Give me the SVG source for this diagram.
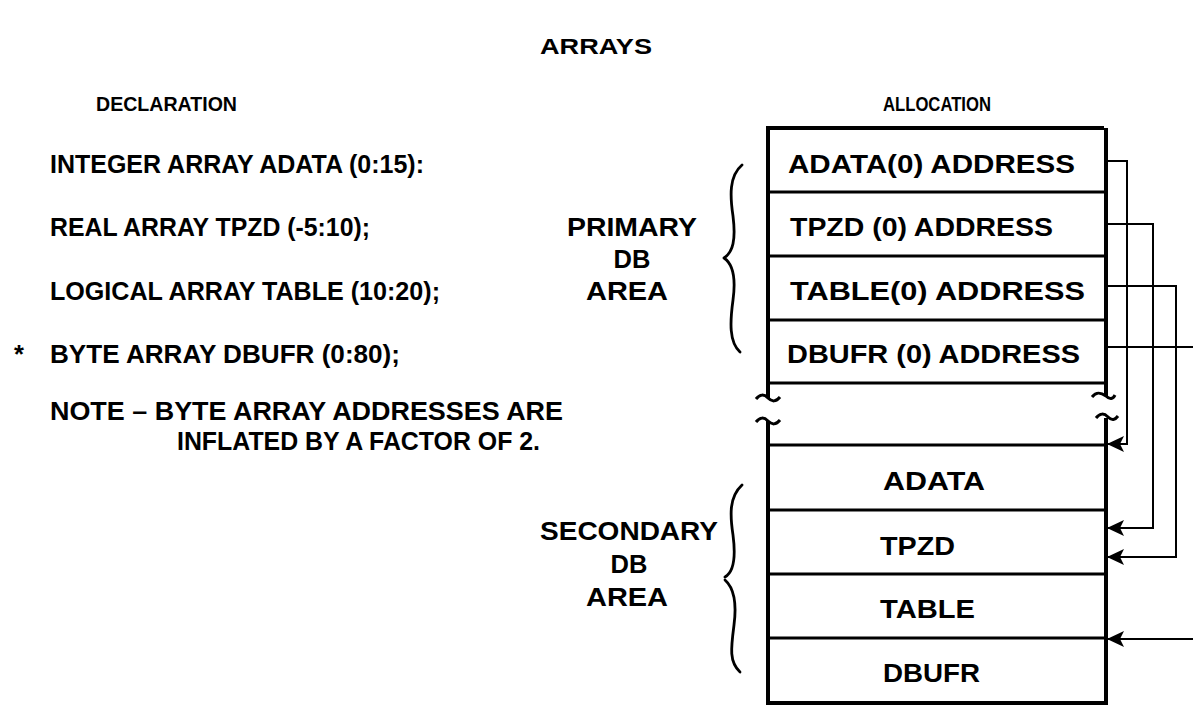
<svg xmlns="http://www.w3.org/2000/svg" width="1193" height="705" viewBox="0 0 1193 705">
<defs>
<style>
text{font-family:"Liberation Sans",Arial,sans-serif;font-weight:bold;fill:#000}
.t{font-size:25.5px}
.h{font-size:19.5px}
.b{font-size:26.5px}
.c{text-anchor:middle}
.edge{fill:none;stroke:#000;stroke-width:4}
.div{fill:none;stroke:#000;stroke-width:3}
.conn{fill:none;stroke:#000;stroke-width:2}
.brace{fill:none;stroke:#000;stroke-width:2.8;stroke-linecap:round;stroke-linejoin:round}
</style>
<marker id="ah" markerWidth="18" markerHeight="16" refX="17" refY="8" orient="auto" markerUnits="userSpaceOnUse">
<path d="M0,0 L17,8 L0,16 L4,8 Z" fill="#000"/>
</marker>
</defs>
<rect width="1193" height="705" fill="#fff"/>
<g id="titles">
<text x="596" y="54" class="c" style="font-size:22.5px" textLength="112" lengthAdjust="spacingAndGlyphs">ARRAYS</text>
<text x="96" y="111" class="h" textLength="141" lengthAdjust="spacingAndGlyphs">DECLARATION</text>
<text x="883" y="111" class="h" textLength="108" lengthAdjust="spacingAndGlyphs">ALLOCATION</text>
</g>
<g id="declarations">
<text x="50" y="173" class="t" textLength="374" lengthAdjust="spacingAndGlyphs">INTEGER ARRAY ADATA (0:15):</text>
<text x="50" y="236" class="t" textLength="320" lengthAdjust="spacingAndGlyphs">REAL ARRAY TPZD (-5:10);</text>
<text x="50" y="300" class="t" textLength="390" lengthAdjust="spacingAndGlyphs">LOGICAL ARRAY TABLE (10:20);</text>
<text x="14" y="363" class="t">*</text>
<text x="50" y="363" class="t" textLength="350" lengthAdjust="spacingAndGlyphs">BYTE ARRAY DBUFR (0:80);</text>
<text x="50" y="420" class="t" textLength="513" lengthAdjust="spacingAndGlyphs">NOTE – BYTE ARRAY ADDRESSES ARE</text>
<text x="177" y="450" class="t" textLength="363" lengthAdjust="spacingAndGlyphs">INFLATED BY A FACTOR OF 2.</text>
</g>
<g id="primary-label">
<text x="632" y="236" class="t c" textLength="130" lengthAdjust="spacingAndGlyphs">PRIMARY</text>
<text x="632" y="268" class="t c">DB</text>
<text x="627" y="300" class="t c" textLength="82" lengthAdjust="spacingAndGlyphs">AREA</text>
<path class="brace" d="M742,165 C729,176 730,196 733,216 C736,240 733,252 724,258 C733,264 736,278 733,300 C730,322 729,342 740,352"/>
</g>
<g id="secondary-label">
<text x="629" y="540" class="t c" textLength="178" lengthAdjust="spacingAndGlyphs">SECONDARY</text>
<text x="629" y="573" class="t c">DB</text>
<text x="627" y="606" class="t c" textLength="82" lengthAdjust="spacingAndGlyphs">AREA</text>
<path class="brace" d="M742,485 C729,497 730,515 733,535 C736,558 734,572 725,577"/>
<path class="brace" d="M725,580 C734,588 737,602 734,625 C731,648 729,662 740,672"/>
</g>
<g id="memory">
<path class="edge" d="M766,128 H1104"/>
<path class="edge" d="M768,128 V398 M768,421 V703 M1106,128 V396 M1106,418 V703 M766,703 H1108"/>
<path class="div" d="M756,399 C760,394 764,394 768,398 C772,402 776,402 780,397"/>
<path class="div" d="M756,422 C760,417 764,417 768,421 C772,425 776,425 780,420"/>
<path class="div" d="M1092,397 C1096,392 1100,392 1106,396 C1110,400 1113,399 1115,395"/>
<path class="div" d="M1096,418 C1100,413 1104,413 1108,417 C1112,421 1115,420 1118,416"/>
<path class="div" d="M766,192 H1106 M766,256 H1106 M766,320 H1106 M766,383 H1106 M766,445 H1106 M766,510 H1106 M766,574 H1106 M766,638 H1106"/>
</g>
<g id="row-adata0"><text x="788" y="173" class="b" textLength="287" lengthAdjust="spacingAndGlyphs">ADATA(0) ADDRESS</text></g>
<g id="row-tpzd0"><text x="790" y="236" class="b" textLength="263" lengthAdjust="spacingAndGlyphs">TPZD (0) ADDRESS</text></g>
<g id="row-table0"><text x="790" y="300" class="b" textLength="295" lengthAdjust="spacingAndGlyphs">TABLE(0) ADDRESS</text></g>
<g id="row-dbufr0"><text x="787" y="363" class="b" textLength="293" lengthAdjust="spacingAndGlyphs">DBUFR (0) ADDRESS</text></g>
<g id="row-adata"><text x="883" y="490" class="b" textLength="102" lengthAdjust="spacingAndGlyphs">ADATA</text></g>
<g id="row-tpzd"><text x="880" y="555" class="b" textLength="75" lengthAdjust="spacingAndGlyphs">TPZD</text></g>
<g id="row-table"><text x="880" y="618" class="b" textLength="95" lengthAdjust="spacingAndGlyphs">TABLE</text></g>
<g id="row-dbufr"><text x="883" y="682" class="b" textLength="97" lengthAdjust="spacingAndGlyphs">DBUFR</text></g>
<g id="connectors">
<path class="conn" marker-end="url(#ah)" d="M1106,161 H1127 V444 H1107"/>
<path class="conn" marker-end="url(#ah)" d="M1106,224 H1153 V528 H1107"/>
<path class="conn" marker-end="url(#ah)" d="M1106,286 H1176 V557 H1107"/>
<path class="conn" d="M1106,347 H1193"/>
<path class="conn" marker-end="url(#ah)" d="M1193,639 H1107"/>
</g>
</svg>
